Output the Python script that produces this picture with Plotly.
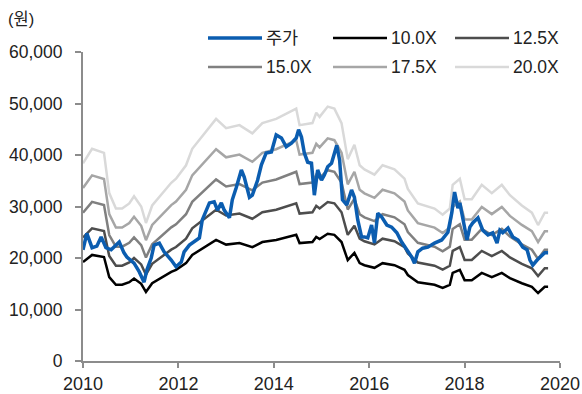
import plotly.graph_objects as go

# Band base line (10.0X) - decimal years and values (원)
band_x = [2010.00, 2010.19, 2010.44, 2010.55, 2010.69, 2010.82, 2010.97, 2011.07, 2011.22, 2011.32,
          2011.45, 2011.66, 2011.85, 2011.95, 2012.16, 2012.29, 2012.54, 2012.79, 2013.00, 2013.28,
          2013.55, 2013.76, 2014.05, 2014.29, 2014.47, 2014.54, 2014.81, 2014.89, 2014.96, 2015.13,
          2015.27, 2015.42, 2015.55, 2015.69, 2015.80, 2015.90, 2016.11, 2016.28, 2016.53, 2016.74,
          2016.81, 2017.02, 2017.16, 2017.37, 2017.54, 2017.69, 2017.75, 2017.90, 2018.00, 2018.15,
          2018.36, 2018.57, 2018.78, 2018.95, 2019.20, 2019.41, 2019.54, 2019.68, 2019.75]
band_10x = [19200, 20600, 20200, 16300, 14800, 14800, 15300, 16000, 15000, 13400,
            15100, 16300, 17300, 17700, 19000, 20600, 22100, 23500, 22600, 22900,
            22100, 23100, 23500, 24100, 24500, 22900, 23100, 24100, 23700, 24700,
            24500, 23100, 19600, 21000, 19000, 18600, 18100, 19000, 18600, 17700,
            16700, 15300, 15100, 14800, 14200, 14800, 17100, 17700, 15700, 15700,
            17100, 16300, 17100, 16100, 15100, 14400, 13200, 14400, 14400]

multiples = [10.0, 12.5, 15.0, 17.5, 20.0]
band_names = ["10.0X", "12.5X", "15.0X", "17.5X", "20.0X"]
band_colors = ["#000000", "#4d4d4d", "#808080", "#a6a6a6", "#d9d9d9"]

# Share price (주가)
price_x = [2010.00, 2010.08, 2010.19, 2010.29, 2010.38, 2010.48, 2010.59, 2010.69, 2010.76, 2010.86,
           2010.92, 2011.07, 2011.18, 2011.28, 2011.34, 2011.43, 2011.49, 2011.60, 2011.70, 2011.85,
           2011.95, 2012.06, 2012.12, 2012.23, 2012.37, 2012.44, 2012.50, 2012.58, 2012.65, 2012.75,
           2012.82, 2012.90, 2012.96, 2013.07, 2013.13, 2013.21, 2013.32, 2013.38, 2013.49, 2013.55,
           2013.66, 2013.74, 2013.84, 2013.95, 2014.05, 2014.16, 2014.26, 2014.37, 2014.47, 2014.52,
           2014.58, 2014.64, 2014.71, 2014.79, 2014.85, 2014.92, 2015.00, 2015.06, 2015.13, 2015.21,
           2015.32, 2015.38, 2015.44, 2015.53, 2015.63, 2015.69, 2015.76, 2015.84, 2015.90, 2015.97,
           2016.05, 2016.11, 2016.18, 2016.26, 2016.37, 2016.47, 2016.58, 2016.68, 2016.79, 2016.89,
           2016.95, 2017.02, 2017.12, 2017.23, 2017.37, 2017.52, 2017.65, 2017.73, 2017.79, 2017.86,
           2017.90, 2017.96, 2018.05, 2018.11, 2018.17, 2018.28, 2018.38, 2018.49, 2018.59, 2018.68,
           2018.74, 2018.80, 2018.91, 2019.01, 2019.12, 2019.22, 2019.31, 2019.37, 2019.43, 2019.52,
           2019.62, 2019.68, 2019.75]
price = [21600, 24800, 22000, 22300, 24100, 22000, 21600, 22500, 23100, 21000,
         20200, 19000, 17300, 15300, 17700, 20000, 22500, 22900, 21200, 19600,
         18300, 19200, 21200, 22500, 23500, 23900, 27400, 29300, 30700, 30900,
         29300, 30700, 29300, 27800, 31300, 33600, 37100, 35700, 31800, 32200,
         35100, 38100, 40400, 40600, 43900, 43300, 41600, 42300, 43300, 44900,
         43500, 40400, 38600, 38400, 32200, 37100, 35100, 36100, 37700, 38400,
         41900, 39000, 31300, 30300, 33200, 31800, 27400, 24100, 24100, 23900,
         26400, 22900, 28700, 28000, 26400, 26000, 24900, 23100, 21600, 20200,
         19000, 21200, 21900, 22100, 22900, 23500, 25000, 28700, 32800, 29700,
         30700, 28000, 23500, 26000, 26800, 27800, 25400, 24500, 24900, 22900,
         25400, 24900, 25800, 24100, 23500, 22100, 21600, 19600, 18600, 19600,
         20600, 21000, 21000]

legend_names = ["주가"] + band_names
legend_colors = ["#0b5db0"] + band_colors
legend_widths = [3.5, 2.5, 2.5, 2.5, 2.5, 2.5]

FONT = "Liberation Sans, Arial, Noto Sans CJK KR, sans-serif"
W, H = 582, 394
ML, MR, MT, MB = 83, 22, 52, 33
PW, PH = W - ML - MR, H - MT - MB


def px2paper(px, py):
    return (px - ML) / PW, (H - MB - py) / PH


fig = go.Figure()
for m, nm, col in zip(multiples, band_names, band_colors):
    fig.add_trace(go.Scatter(x=band_x, y=[v * m / 10.0 for v in band_10x], name=nm,
                             mode="lines", line=dict(color=col, width=2.5)))
fig.add_trace(go.Scatter(x=price_x, y=price, name="주가", mode="lines",
                         line=dict(color="#0b5db0", width=3.5)))

# manual legend (3 columns x 2 rows)
shapes, annots = [], []
col_x = [208, 333, 455]
row_y = [38, 67]
for i, (nm, col, lw) in enumerate(zip(legend_names, legend_colors, legend_widths)):
    cx = col_x[i % 3]
    ry = row_y[i // 3]
    x0, y0 = px2paper(cx, ry)
    x1, _ = px2paper(cx + 54, ry)
    shapes.append(dict(type="line", xref="paper", yref="paper", x0=x0, x1=x1, y0=y0, y1=y0,
                       line=dict(color=col, width=lw)))
    tx, _ = px2paper(cx + 56, ry)
    annots.append(dict(text=nm, xref="paper", yref="paper", x=tx, y=y0, xanchor="left",
                       yanchor="middle", showarrow=False, font=dict(size=17.5, family=FONT)))

ux, uy = px2paper(6, 19)
annots.append(dict(text="(원)", xref="paper", yref="paper", x=ux, y=uy,
                   xanchor="left", yanchor="middle", showarrow=False,
                   font=dict(size=16.5, family=FONT)))

fig.update_layout(
    width=W, height=H,
    margin=dict(l=ML, r=MR, t=MT, b=MB, autoexpand=False),
    paper_bgcolor="white", plot_bgcolor="white",
    font=dict(family=FONT, size=17.5, color="#222222"),
    showlegend=False,
    xaxis=dict(range=[2010, 2020], tickvals=[2010, 2012, 2014, 2016, 2018, 2020],
               showgrid=False, zeroline=False, showline=True, linecolor="#8c8c8c", linewidth=2,
               ticks="outside", ticklen=5, tickcolor="#8c8c8c", tickwidth=1.5,
               tickfont=dict(size=18)),
    yaxis=dict(range=[0, 60000], tickvals=[0, 10000, 20000, 30000, 40000, 50000, 60000],
               tickformat=",d", showgrid=False, zeroline=False, showline=True,
               linecolor="#8c8c8c", linewidth=2, ticks="outside", ticklen=6,
               tickcolor="#8c8c8c", tickwidth=1.5, ticklabelstandoff=9,
               tickfont=dict(size=17.5)),
    shapes=shapes,
    annotations=annots,
)

fig.write_html("out.html")
